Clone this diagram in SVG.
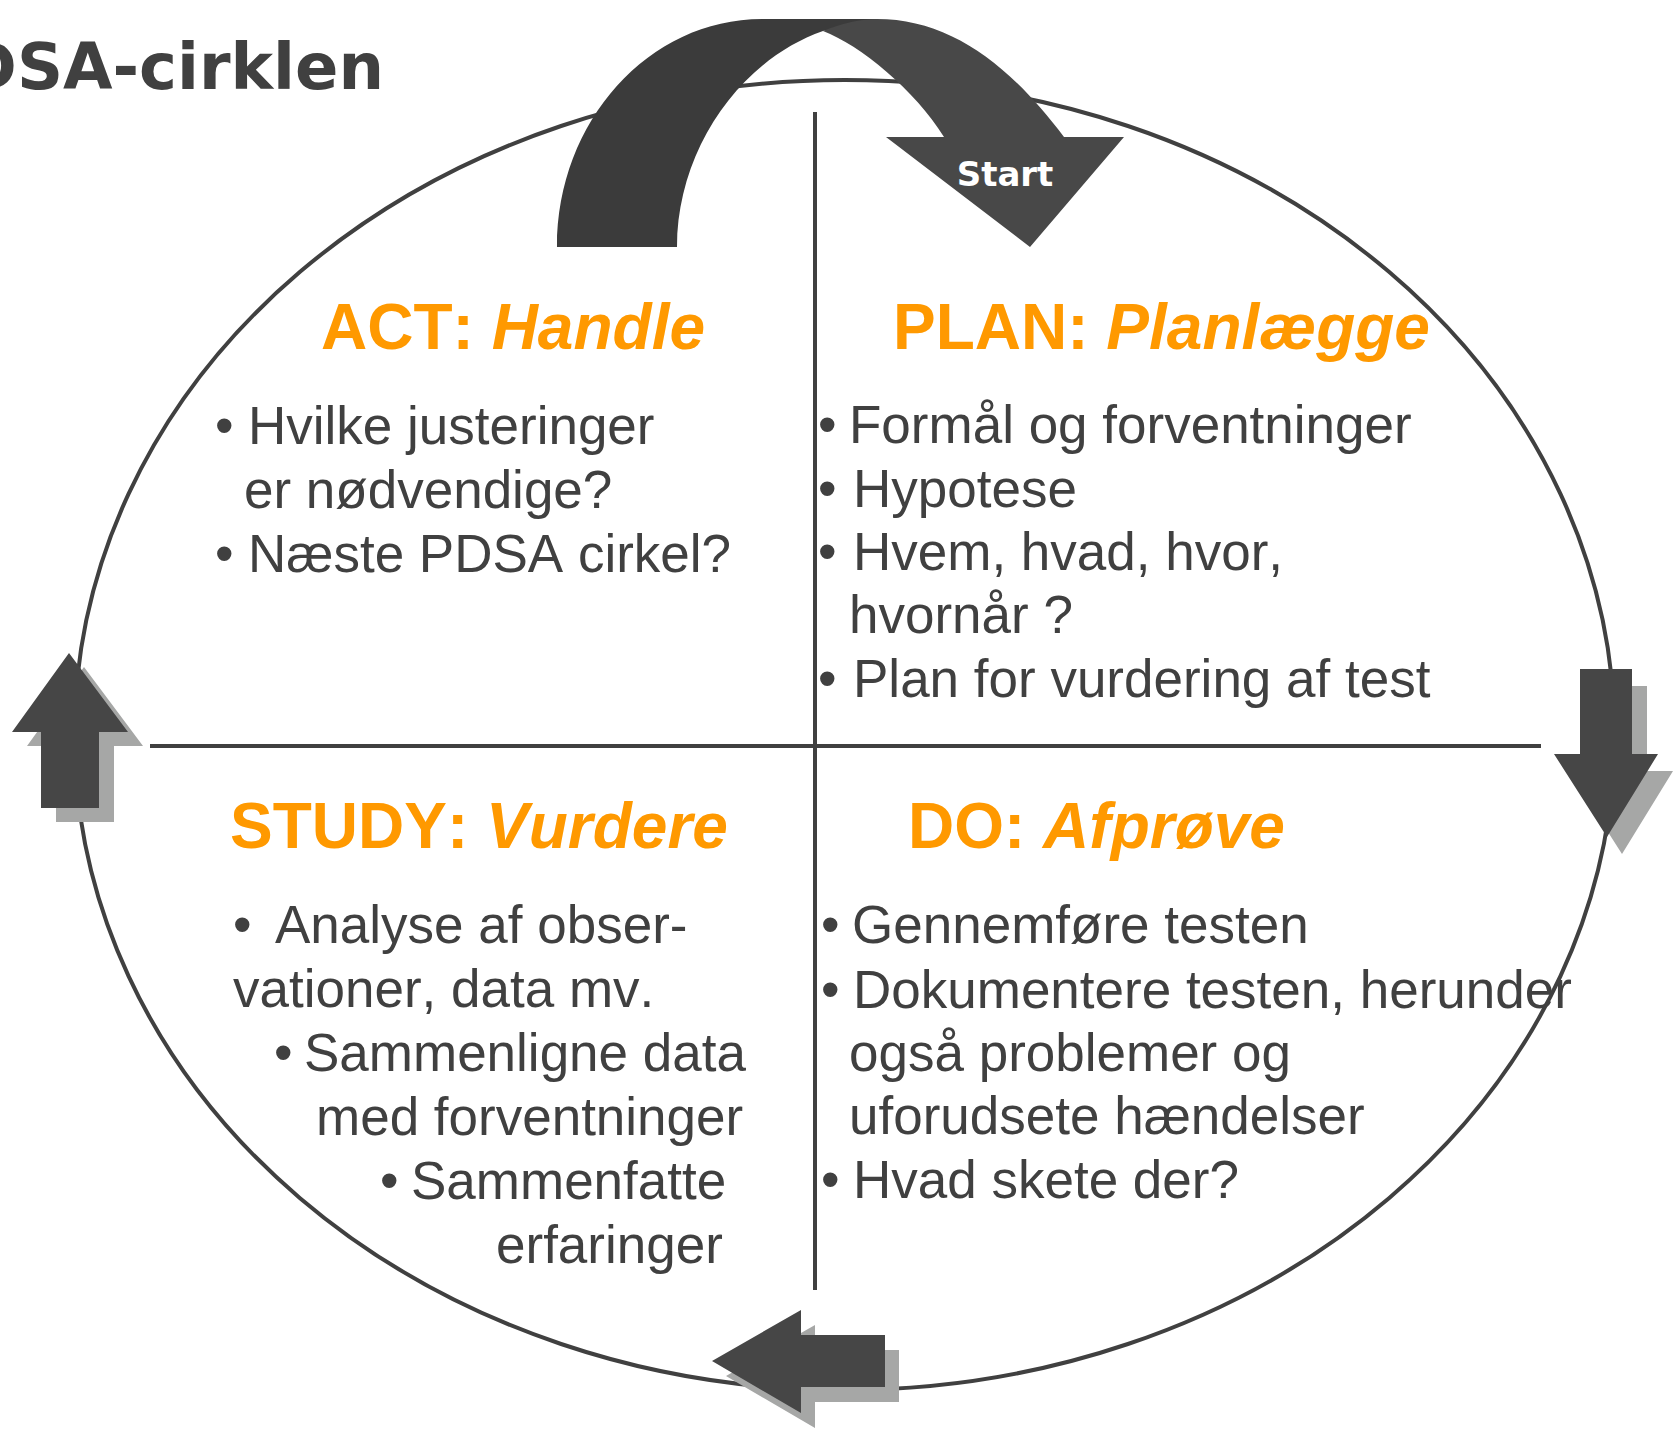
<svg xmlns="http://www.w3.org/2000/svg" width="1677" height="1432" viewBox="0 0 1677 1432">
<style>
text{font-kerning:none}
.body{font-family:"Liberation Sans",Arial,sans-serif;font-size:53px;fill:#404040}
.head{font-family:"Liberation Sans",Arial,sans-serif;font-size:64px;font-weight:bold;fill:#FF9900}
.it{font-style:italic}
.line{stroke:#404040;stroke-width:4;fill:none}
.arrow{fill:#464646}
.shadow{fill:#a6a7a6}
.title{font-family:"DejaVu Sans",Verdana,sans-serif;font-size:64px;font-weight:bold;fill:#404040}
.start{font-family:"Comic Sans MS","DejaVu Sans",sans-serif;font-size:34px;font-weight:bold;fill:#ffffff}
</style>
<rect width="1677" height="1432" fill="#ffffff"/>
<g id="title">
<text class="title" x="384" y="89" text-anchor="end">PDSA-cirklen</text>
</g>
<g id="cycle">
<ellipse class="line" cx="844.5" cy="735" rx="770" ry="655"/>
</g>
<g id="dividers">
<line class="line" x1="815" y1="112" x2="815" y2="1290" stroke-width="4.5"/>
<line class="line" x1="150" y1="746" x2="1541" y2="746" stroke-width="4.5"/>
</g>
<g id="connectors">
<g id="arrow-start">
<path d="M557,247 C557,121 649,19 762,19 L880,19 L823,31 C740,60 677,150 677,247 Z" fill="#3b3b3b"/>
<path d="M823,31 C840,24 858,19 877,19 C950,19 1010,65 1064,137 L1124,137 L1030,247 L886,137 L944,137 C915,90 860,45 823,31 Z" fill="#484848"/>
<text class="start" x="1005" y="186" text-anchor="middle">Start</text>
</g>
<g id="arrow-plan-do">
<path class="shadow" transform="translate(15,17)" d="M1580,669 L1632,669 L1632,754 L1658,754 L1607,837 L1554,754 L1580,754 Z"/>
<path class="arrow" d="M1580,669 L1632,669 L1632,754 L1658,754 L1607,837 L1554,754 L1580,754 Z"/>
</g>
<g id="arrow-do-study">
<path class="shadow" transform="translate(14,15)" d="M885,1335 L885,1387 L801,1387 L801,1413 L712,1361 L801,1310 L801,1335 Z"/>
<path class="arrow" d="M885,1335 L885,1387 L801,1387 L801,1413 L712,1361 L801,1310 L801,1335 Z"/>
</g>
<g id="arrow-study-act">
<path class="shadow" transform="translate(15,14)" d="M41,808 L99,808 L99,732 L128,732 L69,653 L12,732 L41,732 Z"/>
<path class="arrow" d="M41,808 L99,808 L99,732 L128,732 L69,653 L12,732 L41,732 Z"/>
</g>
</g>
<g id="act">
<text class="head" x="321" y="349">ACT: <tspan class="it">Handle</tspan></text>
<text class="body" y="444"><tspan x="215">•</tspan><tspan x="248">Hvilke justeringer</tspan></text>
<text class="body" x="244" y="508">er nødvendige?</text>
<text class="body" y="572"><tspan x="215">•</tspan><tspan x="248">Næste PDSA cirkel?</tspan></text>
</g>
<g id="plan">
<text class="head" x="893" y="349">PLAN: <tspan class="it">Planlægge</tspan></text>
<text class="body" y="443"><tspan x="818">•</tspan><tspan x="849">Formål og forventninger</tspan></text>
<text class="body" y="507"><tspan x="818">•</tspan><tspan x="853">Hypotese</tspan></text>
<text class="body" y="570"><tspan x="818">•</tspan><tspan x="853">Hvem, hvad, hvor,</tspan></text>
<text class="body" x="849" y="633">hvornår ?</text>
<text class="body" y="697"><tspan x="818">•</tspan><tspan x="853">Plan for vurdering af test</tspan></text>
</g>
<g id="study">
<text class="head" x="230" y="848">STUDY: <tspan class="it">Vurdere</tspan></text>
<text class="body" y="943"><tspan x="233">•</tspan><tspan x="275">Analyse af obser-</tspan></text>
<text class="body" x="233" y="1007">vationer, data mv.</text>
<text class="body" y="1071"><tspan x="274">•</tspan><tspan x="304">Sammenligne data</tspan></text>
<text class="body" x="316" y="1135">med forventninger</text>
<text class="body" y="1199"><tspan x="380">•</tspan><tspan x="411">Sammenfatte</tspan></text>
<text class="body" x="496" y="1263">erfaringer</text>
</g>
<g id="do">
<text class="head" x="908" y="848">DO: <tspan class="it">Afprøve</tspan></text>
<text class="body" y="943"><tspan x="821">•</tspan><tspan x="852">Gennemføre testen</tspan></text>
<text class="body" y="1008"><tspan x="821">•</tspan><tspan x="853">Dokumentere testen, herunder</tspan></text>
<text class="body" x="849" y="1071">også problemer og</text>
<text class="body" x="849" y="1134">uforudsete hændelser</text>
<text class="body" y="1198"><tspan x="821">•</tspan><tspan x="853">Hvad skete der?</tspan></text>
</g>
</svg>
